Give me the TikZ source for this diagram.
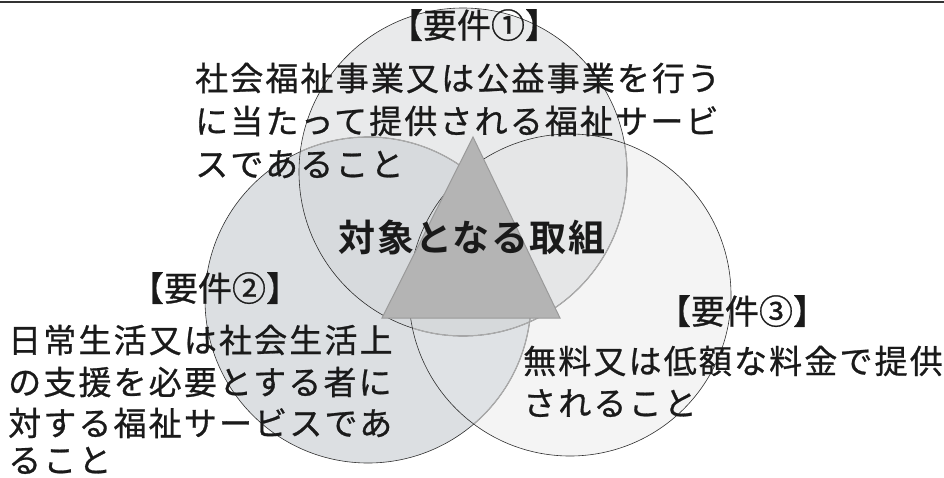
\documentclass[tikz,border=0pt]{standalone}
\usepackage{fontspec}
\newfontfamily\jp{Noto Sans CJK JP}[FakeBold=0.8]
\newfontfamily\jpls{Noto Sans CJK JP}[LetterSpace=6.5,FakeBold=0.8]
\newfontfamily\jpbold{Noto Sans CJK JP Bold}[LetterSpace=4]
\definecolor{txt}{HTML}{1A1A1A}
\definecolor{topline}{HTML}{333333}
\definecolor{cone}{HTML}{E9EAEB}
\definecolor{ctwo}{HTML}{DCDFE2}
\definecolor{cthree}{HTML}{F4F4F4}
\definecolor{conetwo}{HTML}{D7DADD}
\definecolor{conethree}{HTML}{E5E6E7}
\definecolor{ctwothree}{HTML}{DFE2E5}
\definecolor{call}{HTML}{D6D9DB}
\definecolor{edgegray}{HTML}{ABABAB}
\definecolor{edgedark}{HTML}{2E2E2E}
\definecolor{trifill}{HTML}{B4B4B4}
\definecolor{triedge}{HTML}{9A9A9A}
\def\cirA{(463,172) circle[radius=164]}
\def\cirB{(368,300) circle[radius=163]}
\def\cirC{(570,295) circle[radius=161]}
\begin{document}
\begin{tikzpicture}[x=1pt,y=-1pt,
  body/.style={anchor=base west,inner sep=0pt,font=\jpls\fontsize{33}{33}\selectfont,text=txt},
  ttl/.style={anchor=base,inner sep=0pt,font=\jp\fontsize{34}{34}\selectfont,text=txt},
  center/.style={anchor=base,inner sep=0pt,font=\jpbold\fontsize{37}{37}\selectfont,text=txt},
  darkedge/.style={draw=edgedark,line width=0.6pt},
  grayedge/.style={draw=edgegray,line width=1.2pt}]
\useasboundingbox (0,0) rectangle (944,477);
% fills
\fill[ctwo] \cirB;
\fill[cone] \cirA;
\fill[cthree] \cirC;
\begin{scope}\clip \cirA; \fill[conetwo] \cirB; \end{scope}
\begin{scope}\clip \cirA; \fill[conethree] \cirC; \end{scope}
\begin{scope}\clip \cirB; \fill[ctwothree] \cirC; \end{scope}
\begin{scope}\clip \cirA; \clip \cirB; \fill[call] \cirC; \end{scope}
% outlines
\draw[darkedge] \cirB;
\begin{scope}\clip \cirA; \draw[grayedge] \cirB; \end{scope}
\begin{scope}\clip \cirC; \draw[grayedge] \cirB; \end{scope}
\draw[darkedge] \cirA;
\begin{scope}\clip \cirC; \draw[grayedge] \cirA; \end{scope}
\draw[darkedge] \cirC;
% top rule
\coordinate (tl) at (0,2);
\coordinate (tr) at (944,2);
\draw[topline,line width=1.8pt] (tl) -- (tr);
% triangle
\draw[fill=trifill,draw=triedge,line width=1pt] (473,137) -- (560,318) -- (382,318) -- cycle;
% texts
\node[ttl] (t1) at (474,38) {【要件①】};
\node[body] (a1) at (195,90.5) {社会福祉事業又は公益事業を行う};
\node[body] (a2) at (195,133.5) {に当たって提供される福祉サービ};
\node[body] (a3) at (195,176.5) {スであること};
\node[center] (ctr) at (472,251) {対象となる取組};
\node[ttl] (t2) at (215,301) {【要件②】};
\node[body] (b1) at (8,352.5) {日常生活又は社会生活上};
\node[body] (b2) at (8,394.5) {の支援を必要とする者に};
\node[body] (b3) at (8,435.5) {対する福祉サービスであ};
\node[body] (b4) at (8,472.5) {ること};
\node[ttl] (t3) at (742,324) {【要件③】};
\node[body] (c1) at (523,373.5) {無料又は低額な料金で提供};
\node[body] (c2) at (523,415.5) {されること};
\end{tikzpicture}
\end{document}
